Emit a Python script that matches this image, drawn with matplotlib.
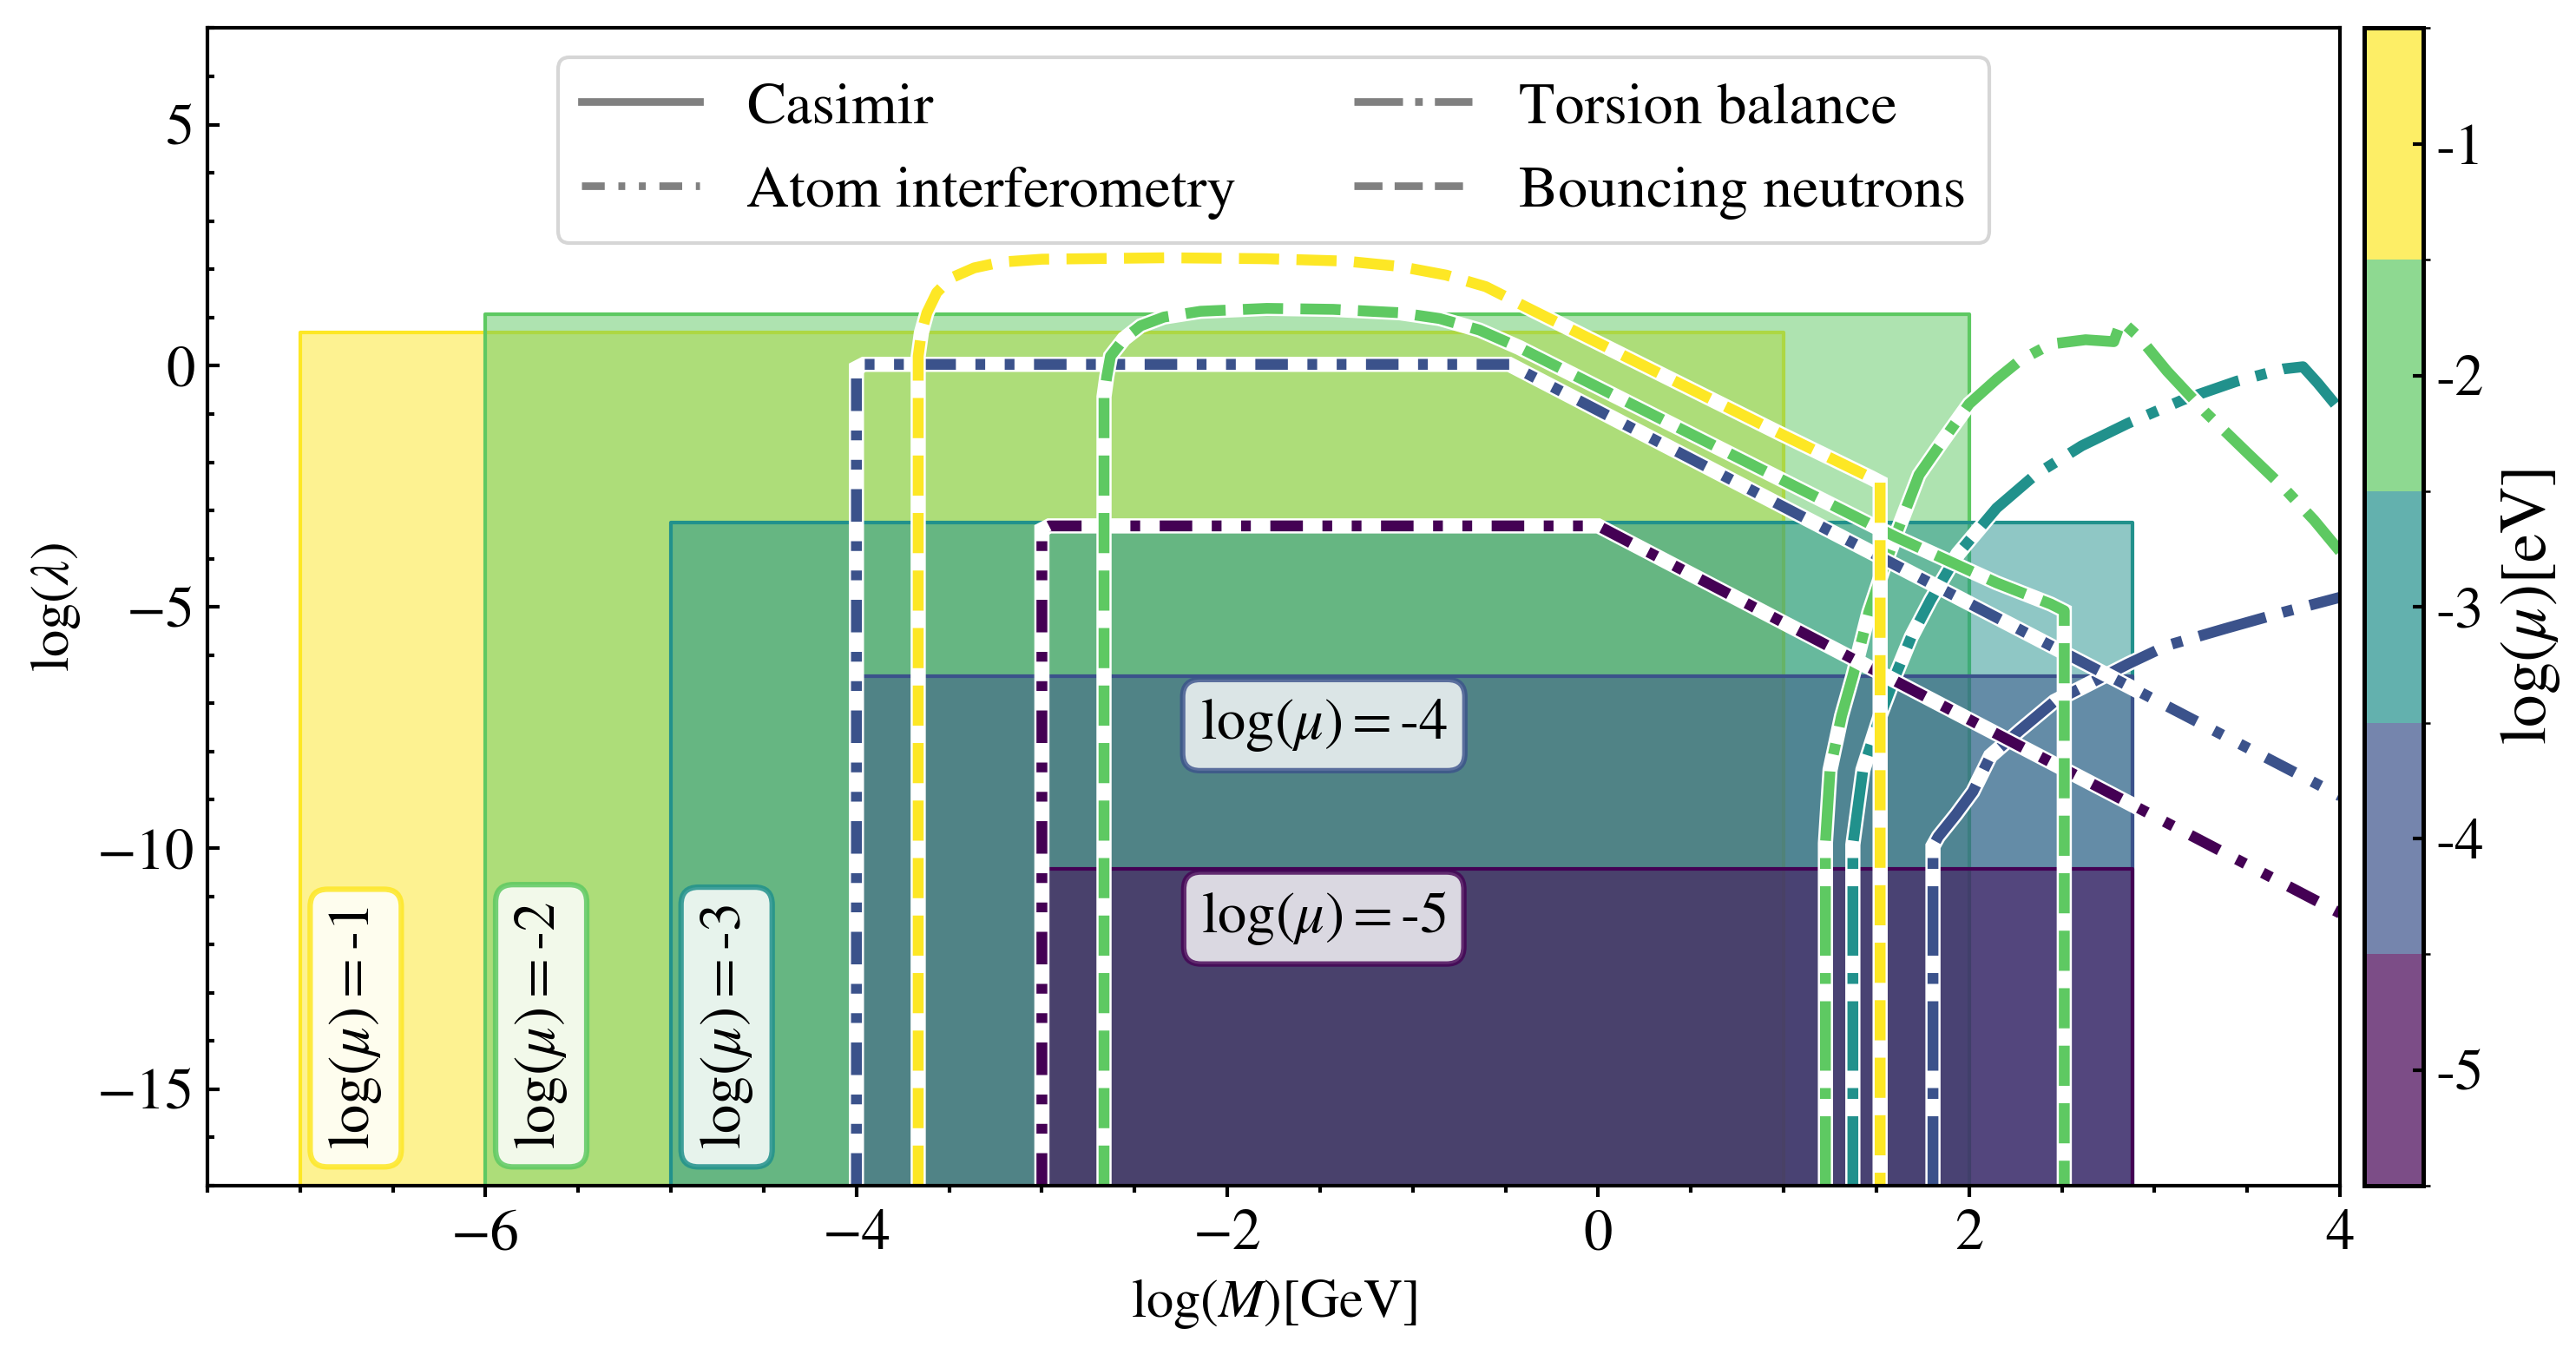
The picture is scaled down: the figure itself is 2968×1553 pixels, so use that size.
import numpy as np
import matplotlib
matplotlib.use("Agg")
import matplotlib as mpl
from matplotlib import pyplot as plt
from matplotlib import colors as mcolors
from matplotlib.lines import Line2D
from matplotlib.ticker import MultipleLocator

plt.rcParams["font.family"] = "STIXGeneral"
plt.rcParams["mathtext.fontset"] = "stix"

#+++++ data
log_mu = [-5, -4, -3, -2, -1]
mu_col = dict(zip(log_mu, plt.cm.viridis(np.linspace(0, 1, 5))))

# Casimir regions (log mu, x range, top)
cas_mu = [-1, -2, -3, -4, -5]
cas_xmin = [-7.0, -6.0, -5.0, -4.0, -3.0]
cas_xmax = [1.0, 2.0, 2.88, 2.88, 2.88]
cas_ytop = [0.69, 1.07, -3.25, -6.44, -10.43]

# Torsion balance
tb_m2_x = [1.225, 1.225, 1.25, 1.312, 1.375, 1.459, 1.542, 1.626, 1.73, 1.855, 2.0, 2.148,
           2.273, 2.44, 2.628, 2.78, 2.82, 2.92, 3.067, 3.276, 3.485, 3.694, 3.86, 4.0]
tb_m2_y = [-17, -9.9, -8.38, -7.26, -6.4, -5.11, -4.16, -3.3, -2.26, -1.57, -0.79, -0.28,
           0.11, 0.45, 0.54, 0.50, 0.93, 0.58, -0.11, -0.97, -1.75, -2.52, -3.2, -3.85]
tb_m3_x = [1.373, 1.373, 1.427, 1.52, 1.605, 1.688, 1.793, 1.94, 2.148, 2.357, 2.607, 2.858,
           3.15, 3.443, 3.694, 3.8, 3.88, 4.0]
tb_m3_y = [-17, -9.93, -8.38, -7.26, -6.4, -5.62, -4.85, -3.9, -2.95, -2.26, -1.66, -1.19,
           -0.71, -0.32, -0.065, -0.02, -0.36, -0.92]
tb_m4_x = [1.805, 1.805, 1.834, 1.93, 2.02, 2.115, 2.273, 2.46, 2.858, 3.067, 3.38, 3.694, 4.0]
tb_m4_y = [-17, -9.96, -9.76, -9.3, -8.83, -8.09, -7.56, -6.96, -6.18, -5.8, -5.45, -5.11, -4.8]

# Atom interferometry
ai_m4_x = [-4.0, -4.0, -3.96, -0.48, 4.0]
ai_m4_y = [-17, -0.05, 0.03, 0.03, -8.92]
ai_m5_x = [-3.0, -3.0, -2.96, 0.0, 4.0]
ai_m5_y = [-17, -3.4, -3.32, -3.32, -11.35]

# Bouncing neutrons
bn_m1_x = [-3.667, -3.667, -3.65, -3.62, -3.567, -3.49, -3.365, -3.22, -3.0, -2.33, -1.79,
           -1.36, -1.07, -0.82, -0.606, -0.39, 0.978, 1.47, 1.52, 1.52]
bn_m1_y = [-17, 0.2, 0.68, 1.1, 1.52, 1.82, 2.03, 2.15, 2.21, 2.24, 2.22,
           2.17, 2.06, 1.88, 1.64, 1.22, -1.40, -2.32, -2.42, -17]
bn_m2_x = [-2.665, -2.665, -2.65, -2.63, -2.557, -2.467, -2.342, -2.145, -1.787, -1.43, -1.07,
           -0.856, -0.64, -0.427, 0.978, 1.605, 2.148, 2.44, 2.513, 2.513]
bn_m2_y = [-17, -0.64, -0.22, 0.2, 0.56, 0.83, 1.01, 1.13, 1.19, 1.17, 1.10,
           0.98, 0.74, 0.38, -2.34, -3.55, -4.5, -4.94, -5.08, -17]
#-----

ls_atom = (0, (3, 1.8, 0.9, 1.8, 0.9, 1.8))
ls_tors = "-."
ls_bounce = "--"

fig = plt.figure(figsize=(2968/300, 1553/300), dpi=300)
ax = fig.add_axes([0.0805, 0.1204, 0.8279, 0.8587])
cax = fig.add_axes([0.9178, 0.1204, 0.0229, 0.8587])

for m, x0, x1, yt in zip(cas_mu, cas_xmin, cas_xmax, cas_ytop):
    c = mu_col[m]
    ax.fill_between([x0, x1], [-17.5, -17.5], [yt, yt], facecolor=mcolors.to_rgba(c, 0.5),
                    edgecolor=c, lw=1.0)


def curve(x, y, m, ls):
    ax.plot(x, y, color="white", lw=4.2, solid_joinstyle="miter")
    ax.plot(x, y, color=mu_col[m], lw=3.0, ls=ls, solid_joinstyle="miter")


curve(tb_m4_x, tb_m4_y, -4, ls_tors)
curve(tb_m3_x, tb_m3_y, -3, ls_tors)
curve(tb_m2_x, tb_m2_y, -2, ls_tors)
curve(ai_m5_x, ai_m5_y, -5, ls_atom)
curve(ai_m4_x, ai_m4_y, -4, ls_atom)
curve(bn_m2_x, bn_m2_y, -2, ls_bounce)
curve(bn_m1_x, bn_m1_y, -1, ls_bounce)

# labels
for m, x0 in zip([-1, -2, -3], [-7.0, -6.0, -5.0]):
    ax.text(x0 + 0.3, -16.25, r"$\log(\mu)=$" + f"{m}", rotation=90, ha="center", va="bottom",
            fontsize=16, bbox=dict(boxstyle="round,pad=0.3", facecolor="white",
                                   edgecolor=mu_col[m], lw=1.5, alpha=0.85))
for m, yc in zip([-4, -5], [-7.45, -11.45]):
    ax.text(-1.48, yc, r"$\log(\mu)=$" + f"{m}", ha="center", va="center",
            fontsize=16, bbox=dict(boxstyle="round,pad=0.3", facecolor="white",
                                   edgecolor=mu_col[m], lw=1.5, alpha=0.8))

handles = [Line2D([], [], color="gray", lw=2.1, ls="-"),
           Line2D([], [], color="gray", lw=2.1, ls=ls_atom),
           Line2D([], [], color="gray", lw=2.1, ls=ls_tors),
           Line2D([], [], color="gray", lw=2.1, ls=ls_bounce)]
labels = ["Casimir", "Atom interferometry", "Torsion balance", "Bouncing neutrons"]
ax.legend(handles, labels, loc="upper center", ncol=2, fontsize=16.3)

ax.set_xlim(-7.5, 4)
ax.set_ylim(-17, 7)
ax.set_xticks([-6, -4, -2, 0, 2, 4])
ax.set_yticks([-15, -10, -5, 0, 5])
ax.xaxis.set_minor_locator(MultipleLocator(0.5))
ax.yaxis.set_minor_locator(MultipleLocator(1))
ax.tick_params(axis="x", which="major", direction="out", length=3, width=1.0, labelsize=16)
ax.tick_params(axis="x", which="minor", direction="out", length=1.8, width=1.0)
ax.tick_params(axis="y", which="major", direction="in", length=3.4, width=1.0, labelsize=16)
ax.tick_params(axis="y", which="minor", direction="in", length=1.8, width=1.0)
for s in ax.spines.values():
    s.set_linewidth(1.0)
ax.set_xlabel(r"$\log(M)$[GeV]", fontsize=15)
ax.set_ylabel(r"$\log(\lambda)$", fontsize=15)

cmap = mcolors.ListedColormap([mcolors.to_rgba(mu_col[m], 0.7) for m in log_mu])
norm = mcolors.BoundaryNorm(np.arange(-5.5, 0, 1), cmap.N)
cb = fig.colorbar(mpl.cm.ScalarMappable(norm=norm, cmap=cmap), cax=cax, ticks=log_mu)
cb.ax.set_yticklabels([str(m) for m in log_mu])
cb.ax.tick_params(direction="in", length=2.9, width=1.0, labelsize=16)
cb.outline.set_linewidth(1.2)
cb.set_label(r"$\log(\mu)$[eV]", fontsize=18)

fig.savefig("out.png", dpi=300)
